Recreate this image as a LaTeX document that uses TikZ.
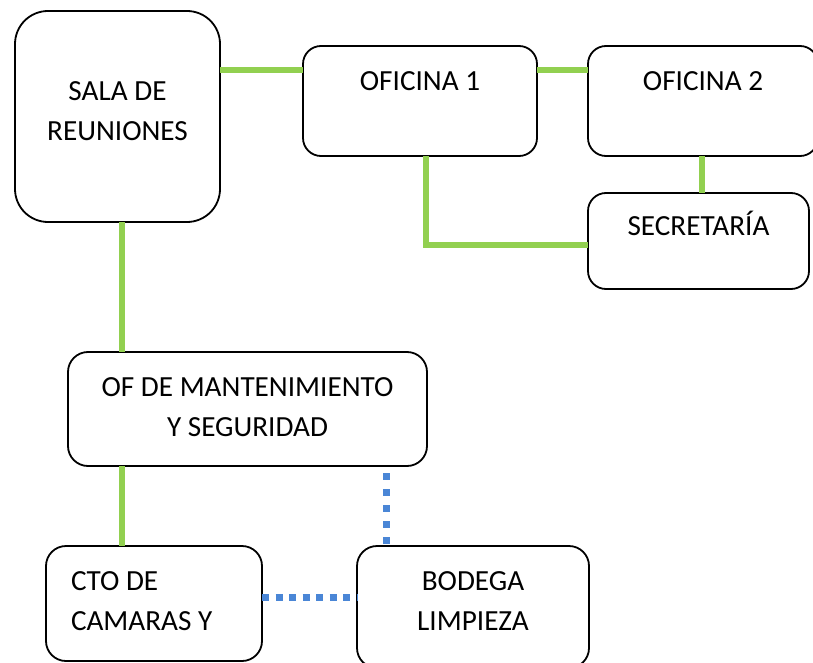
\documentclass[tikz,border=0pt]{standalone}
\usepackage{fontspec}
\setmainfont{Carlito}
\usetikzlibrary{calc}
\definecolor{lgreen}{HTML}{92D050}
\definecolor{lblue}{RGB}{74,134,214}
\tikzset{
  roombox/.style={draw=black, line width=1.8pt, fill=white, inner sep=0pt, outer sep=0pt, anchor=north west},
  gline/.style={draw=lgreen, line width=6.5pt},
  bline/.style={draw=lblue, line width=7pt, dash pattern=on 7pt off 9pt}
}
\begin{document}
\begin{tikzpicture}[x=1pt,y=-1pt]
\useasboundingbox (0,0) rectangle (813,663);
\clip (0,0) rectangle (813,663);
\node[roombox, rounded corners=33pt] (sala) at (15,11)
  {\parbox[t][211pt][t]{205pt}{\fontsize{29.2}{40}\selectfont\centering\vspace*{62pt}\strut SALA DE\\REUNIONES\par}};
\node[roombox, rounded corners=18pt] (of1) at (303,46)
  {\parbox[t][110pt][t]{234pt}{\fontsize{29.2}{40}\selectfont\centering\vspace*{17pt}\strut OFICINA 1\par}};
\node[roombox, rounded corners=18pt] (of2) at (588,46)
  {\parbox[t][110pt][t]{230pt}{\fontsize{29.2}{40}\selectfont\centering\vspace*{17pt}\strut OFICINA 2\par}};
\node[roombox, rounded corners=18pt] (sec) at (588,193)
  {\parbox[t][96pt][t]{221pt}{\fontsize{29.2}{40}\selectfont\centering\vspace*{15pt}\strut SECRETARÍA\par}};
\node[roombox, rounded corners=20pt] (mant) at (68,352)
  {\parbox[t][114pt][t]{359pt}{\fontsize{29.2}{40}\selectfont\centering\vspace*{16pt}\strut OF DE MANTENIMIENTO\\Y SEGURIDAD\par}};
\node[roombox, rounded corners=20pt] (cto) at (46,546)
  {\parbox[t][115pt][t]{216pt}{\fontsize{29.2}{40}\selectfont\raggedright\leftskip=25pt\vspace*{16pt}\strut CTO DE\\CAMARAS Y\par}};
\node[roombox, rounded corners=20pt] (bod) at (357,546)
  {\parbox[t][122pt][t]{232pt}{\fontsize{29.2}{40}\selectfont\centering\vspace*{16pt}\strut BODEGA\\LIMPIEZA\par}};
\coordinate (ytop) at (0,70);
\coordinate (kink) at (426,245);
\coordinate (xleft) at (122,0);
\coordinate (xblue) at (386,0);
\coordinate (yblue) at (597,597);
\draw[gline] (sala.east |- ytop) -- (of1.west |- ytop);
\draw[gline] (of1.east |- ytop) -- (of2.west |- ytop);
\draw[gline] ($(of2.south)+(-1,0)$) -- ($(of2.south |- sec.north)+(-1,0)$);
\draw[gline] (of1.south -| kink) -- (kink) -- (sec.west |- kink);
\draw[gline] (sala.south -| xleft) -- (mant.north -| xleft);
\draw[gline] (mant.south -| xleft) -- (cto.north -| xleft);
\draw[bline, dash phase=9pt] (mant.south -| xblue) -- (bod.north -| xblue);
\draw[bline, dash pattern=on 7pt off 6.5pt] (cto.east |- yblue) -- (bod.west |- yblue);
\end{tikzpicture}
\end{document}
